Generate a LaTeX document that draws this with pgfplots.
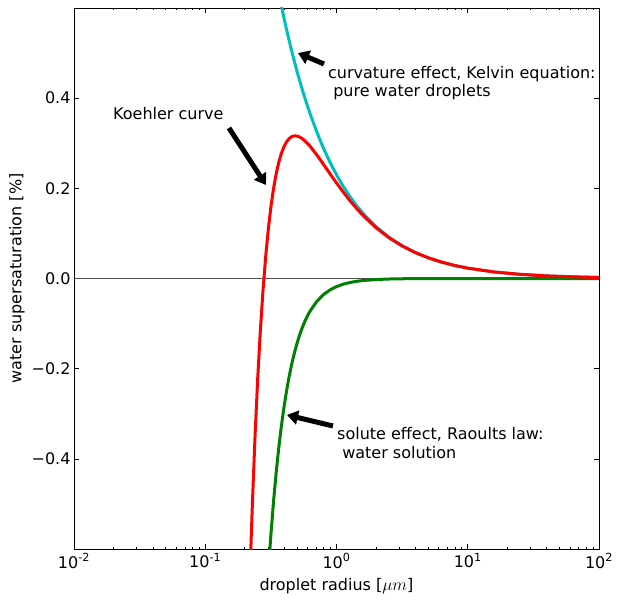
\documentclass[border=0pt]{standalone}
\usepackage{fontspec}
\setmainfont{DejaVu Sans}
\usepackage{pgfplots}
\pgfplotsset{compat=1.18}
\usetikzlibrary{arrows.meta}

\definecolor{kelvin}{rgb}{0,0.75,0.75}
\definecolor{raoult}{rgb}{0,0.5,0}
\definecolor{koehler}{rgb}{1,0,0}

% curvature term (Kelvin), S = A/r with A = 0.23
\pgfplotstableread{
r S
0.36 0.6389
0.37 0.6216
0.38019 0.60496
0.39811 0.57773
0.41687 0.55173
0.43652 0.52690
0.45709 0.50318
0.47863 0.48054
0.50119 0.45891
0.52481 0.43826
0.54954 0.41853
0.57544 0.39969
0.60256 0.38171
0.63096 0.36452
0.70795 0.32488
0.79433 0.28955
0.89125 0.25806
1 0.23
1.12202 0.20499
1.25893 0.18270
1.41254 0.16283
1.58489 0.14512
1.99526 0.11527
2.51189 0.09156
3.16228 0.07273
3.98107 0.05777
5.01187 0.04589
6.30957 0.03645
7.94328 0.02896
10 0.023
15.8489 0.01451
25.1189 0.00916
39.8107 0.00578
63.0957 0.00365
100 0.0023
}\kelvintab

% solute term (Raoult), S = -B/r^3 with B = 0.018
\pgfplotstableread{
r S
0.30 -0.6667
0.30200 -0.65354
0.31623 -0.56921
0.33113 -0.49576
0.34674 -0.43179
0.36308 -0.37607
0.38019 -0.32755
0.39811 -0.28528
0.41687 -0.24847
0.43652 -0.21641
0.45709 -0.18848
0.47863 -0.16416
0.50119 -0.14298
0.52481 -0.12453
0.54954 -0.10846
0.57544 -0.09446
0.60256 -0.08227
0.63096 -0.07166
0.70795 -0.05073
0.79433 -0.03591
0.89125 -0.02543
1 -0.018
1.12202 -0.01274
1.25893 -0.00902
1.41254 -0.00639
1.58489 -0.00452
1.99526 -0.00227
2.51189 -0.00114
3.16228 -0.00057
3.98107 -0.00029
5.01187 -0.00014
6.30957 -0.00007
10 -0.00002
100 0
}\raoulttab

% full Koehler curve, sum of both terms
\pgfplotstableread{
r S
0.22 -0.6450
0.22387 -0.5769
0.22909 -0.4932
0.23988 -0.3452
0.25119 -0.2201
0.26303 -0.1148
0.27542 -0.0264
0.28840 0.0471
0.30200 0.1081
0.31623 0.1581
0.33113 0.1988
0.34674 0.2315
0.36308 0.2574
0.38019 0.2774
0.39811 0.2925
0.41687 0.3033
0.43652 0.3105
0.45709 0.3147
0.47863 0.3164
0.50119 0.3159
0.52481 0.3137
0.54954 0.3101
0.57544 0.3052
0.60256 0.2994
0.63096 0.2929
0.70795 0.2742
0.79433 0.2536
0.89125 0.2326
1 0.2120
1.12202 0.1923
1.25893 0.1737
1.41254 0.1564
1.58489 0.1406
1.99526 0.1130
2.51189 0.0904
3.16228 0.0722
3.98107 0.0575
5.01187 0.0458
6.30957 0.0364
7.94328 0.0289
10 0.0230
15.8489 0.0145
25.1189 0.0092
39.8107 0.0058
63.0957 0.0037
100 0.0023
}\koehlertab

\begin{document}
\begin{tikzpicture}[font=\fontsize{16bp}{19bp}\selectfont]
\begin{axis}[
  scale only axis,
  width=525bp, height=541bp,
  xmode=log, log basis x=10,
  xmin=0.01, xmax=100, ymin=-0.6, ymax=0.6,
  xtick={0.01,0.1,1,10,100},
  xticklabels={10\textsuperscript{-2},10\textsuperscript{-1},10\textsuperscript{0},10\textsuperscript{1},10\textsuperscript{2}},
  minor xtick={0.02,0.03,0.04,0.05,0.06,0.07,0.08,0.09,
               0.2,0.3,0.4,0.5,0.6,0.7,0.8,0.9,
               2,3,4,5,6,7,8,9,
               20,30,40,50,60,70,80,90},
  ytick={-0.4,-0.2,0,0.2,0.4},
  yticklabels={−0.4,−0.2,0.0,0.2,0.4},
  tick align=inside,
  xtick pos=both, ytick pos=both,
  major tick length=5bp, minor tick length=2.5bp,
  every tick/.style={black, line width=0.6bp},
  axis line style={black, line width=0.8bp},
  xticklabel style={yshift=-1bp},
  xlabel={droplet radius [$\mu m$]},
  ylabel={water supersaturation [\%]},
  every axis x label/.style={at={(axis description cs:0.5,-0.0684)}, anchor=center},
  every axis y label/.style={at={(axis description cs:-0.1086,0.5)}, anchor=center, rotate=90},
  clip=true,
]
\addplot[black!70, line width=0.9bp, forget plot] coordinates {(0.01,0) (100,0)};
\addplot[kelvin, line width=3bp] table[x=r, y=S] {\kelvintab};
\addplot[raoult, line width=3bp] table[x=r, y=S] {\raoulttab};
\addplot[koehler, line width=3bp] table[x=r, y=S] {\koehlertab};

% annotations
\draw[black, line width=5bp, -{Triangle[width=14bp,length=11bp]}]
  (rel axis cs:0.4762,0.8965) -- (rel axis cs:0.4267,0.9168);
\draw[black, line width=5bp, -{Triangle[width=14bp,length=11bp]}]
  (rel axis cs:0.2952,0.7782) -- (rel axis cs:0.3657,0.6728);
\draw[black, line width=5bp, -{Triangle[width=14bp,length=11bp]}]
  (rel axis cs:0.4933,0.2274) -- (rel axis cs:0.4057,0.2477);

\node[anchor=base west, inner sep=0] at (rel axis cs:0.4838,0.8688) {curvature effect, Kelvin equation:};
\node[anchor=base west, inner sep=0] at (rel axis cs:0.4838,0.8355) {\ pure water droplets};
\node[anchor=base west, inner sep=0] at (rel axis cs:0.0743,0.7930) {Koehler curve};
\node[anchor=base west, inner sep=0] at (rel axis cs:0.5010,0.2015) {solute effect, Raoults law:};
\node[anchor=base west, inner sep=0] at (rel axis cs:0.5010,0.1682) {\ water solution};
\end{axis}
\pgfresetboundingbox
\useasboundingbox ([shift={(-74bp,-50bp)}]current axis.south west) rectangle ([shift={(19bp,8bp)}]current axis.north east);
\end{tikzpicture}
\end{document}
